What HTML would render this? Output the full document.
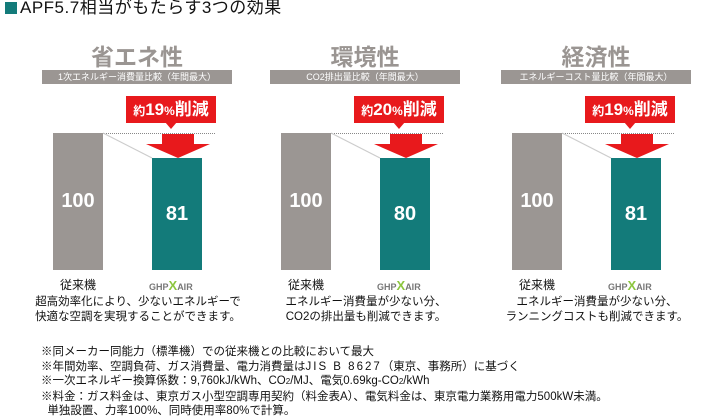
<!DOCTYPE html>
<html><head><meta charset="utf-8"><style>
body{margin:0;width:717px;height:415px;background:#fff;position:relative;overflow:hidden;font-family:"Liberation Sans","Noto Sans CJK JP",sans-serif;color:#111}
.a{position:absolute;white-space:nowrap}
.h{font-size:23px;font-weight:bold;color:#9a9592;text-align:center;width:190px}
.strip{background:#9b9693;color:#fff;font-size:9px;text-align:center;height:14px;line-height:14px;width:190px}
.red{background:#e8191c;color:#fff;font-weight:bold;text-align:center;height:27px;line-height:27px;font-size:17px}
.red small{font-size:12px}
.gb{background:#9b9693;width:50px}
.tb{background:#137b7a;width:50px}
.num{color:#fff;font-weight:bold;font-size:20px;text-align:center;width:50px}
.lab{font-size:11px;text-align:center}
.desc{font-size:11.5px;text-align:center;width:230px;line-height:15px}
.fn{font-size:11.5px;line-height:14.5px}
</style></head><body>
<div class="a" style="left:5px;top:-2px;font-size:17px;letter-spacing:0.5px;line-height:20px"><span style="display:inline-block;width:12px;height:12px;background:#137b7a;vertical-align:-1px;margin-right:3px"></span>APF5.7相当がもたらす3つの効果</div>

<div id="p"></div>
<script>
const P=[{x:0,h:"省エネ性",s:"1次エネルギー消費量比較（年間最大）",r:"19",v:"81",d:"超高効率化により、少ないエネルギーで<br>快適な空調を実現することができます。"},
{x:228,h:"環境性",s:"CO2排出量比較（年間最大）",r:"20",v:"80",d:"エネルギー消費量が少ない分、<br>CO2の排出量も削減できます。"},
{x:459,h:"経済性",s:"エネルギーコスト量比較（年間最大）",r:"19",v:"81",d:"エネルギー消費量が少ない分、<br>ランニングコストも削減できます。"}];
let o="";
for(const p of P){const X=p.x;
o+=`<div class="a h" style="left:${42+X}px;top:38px">${p.h}</div>
<div class="a strip" style="left:${42+X}px;top:70px">${p.s}</div>
<div class="a red" style="left:${126+X}px;top:96px;width:90px"><small>約</small>${p.r}<small>%</small>削減</div>
<div class="a" style="left:${165+X}px;top:122px;width:0;height:0;border-left:6px solid transparent;border-right:6px solid transparent;border-top:7px solid #e8191c"></div>
<div class="a" style="left:${103+X}px;top:133px;width:112px;border-top:1px dotted #888"></div>
<svg class="a" style="left:${100+X}px;top:130px" width="60" height="32"><line x1="3" y1="3" x2="52" y2="28" stroke="#ccc" stroke-width="1.2"/></svg>
<div class="a gb" style="left:${53+X}px;top:133px;height:137px"></div>
<div class="a num" style="left:${53+X}px;top:190px">100</div>
<div class="a tb" style="left:${152+X}px;top:158px;height:112px"></div>
<div class="a num" style="left:${152+X}px;top:203px">${p.v}</div>
<svg class="a" style="left:${144+X}px;top:134px" width="68" height="26"><polygon points="18,0 50,0 50,10 66,10 34,24 2,10 18,10" fill="#e8191c"/></svg>
<div class="a lab" style="left:${53+X}px;top:276px;width:50px;font-size:12px">従来機</div>
<div class="a" style="left:${149+X}px;top:278px;font-size:9px;font-weight:bold;color:#777">GHP<span style="color:#8cc63f;font-size:13px">X</span>AIR</div>
<div class="a desc" style="left:${23+X}px;top:295px">${p.d}</div>`;}
document.getElementById("p").innerHTML=o;
</script>
<div class="a fn" style="left:41px;top:345px">※同メーカー同能力（標準機）での従来機との比較において最大<br>※年間効率、空調負荷、ガス消費量、電力消費量は<span style="letter-spacing:2px">JIS B 8627</span>（東京、事務所）に基づく<br>※一次エネルギー換算係数：9,760kJ/kWh、CO<span style="font-size:8px">2</span>/MJ、電気0.69kg-CO<span style="font-size:8px">2</span>/kWh<br>※料金：ガス料金は、東京ガス小型空調専用契約（料金表A）、電気料金は、東京電力業務用電力500kW未満。<br>&nbsp;&nbsp;単独設置、力率100%、同時使用率80%で計算。</div>
</body></html>
